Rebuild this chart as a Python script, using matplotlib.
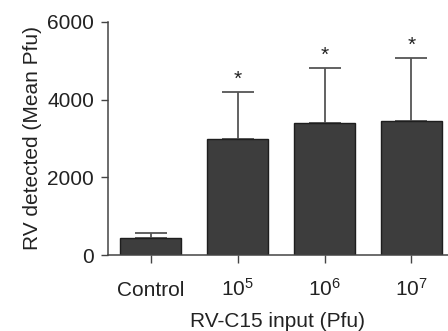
import matplotlib
matplotlib.use("Agg")
import matplotlib.pyplot as plt

plt.rcParams['font.family'] = ['Liberation Sans', 'DejaVu Sans']
plt.rcParams['mathtext.fontset'] = 'custom'
plt.rcParams['mathtext.rm'] = 'Liberation Sans'
plt.rcParams['mathtext.it'] = 'Liberation Sans'
plt.rcParams['mathtext.default'] = 'regular'

groups = ["Control", "$10^5$", "$10^6$", "$10^7$"]
means = [430, 2980, 3390, 3450]
sd_upper = [145, 1210, 1420, 1620]
stars = ["", "*", "*", "*"]

fig = plt.figure(figsize=(4.48, 3.31), dpi=100)
ax = fig.add_axes([0.241, 0.2296, 0.759, 0.704])

x = range(len(groups))
ax.bar(x, means, width=0.7, color="#3d3d3d", edgecolor="#1e1e1e", linewidth=1.0, zorder=2)
ax.errorbar(x, means, yerr=[[0] * len(means), sd_upper], fmt="none",
            ecolor="#555555", elinewidth=1.3, capsize=11.5, capthick=1.3, zorder=1)
for xi, m, e, s in zip(x, means, sd_upper, stars):
    if s:
        ax.text(xi, m + e + 90, s, ha="center", va="bottom", fontsize=15, color="#222222")

ax.set_xlim(-0.49, 3.42)
ax.set_ylim(0, 6000)
ax.set_yticks([0, 2000, 4000, 6000])
ax.set_xticks(list(x))
ax.set_xticklabels(groups, va="baseline")

for side in ["top", "right"]:
    ax.spines[side].set_visible(False)
for side in ["left", "bottom"]:
    ax.spines[side].set_color("#444444")
    ax.spines[side].set_linewidth(1.1)

ax.tick_params(axis="y", direction="out", length=5, width=1.0, color="#444444",
               labelsize=15, labelcolor="#222222", pad=5)
ax.tick_params(axis="x", direction="out", length=5.5, width=1.0, color="#444444",
               labelsize=15, labelcolor="#222222", pad=24)

ax.set_ylabel("RV detected (Mean Pfu)", fontsize=15, color="#222222", labelpad=4)
ax.set_xlabel("RV-C15 input (Pfu)", fontsize=15, color="#222222", labelpad=9)

fig.savefig("out.png", dpi=100)
